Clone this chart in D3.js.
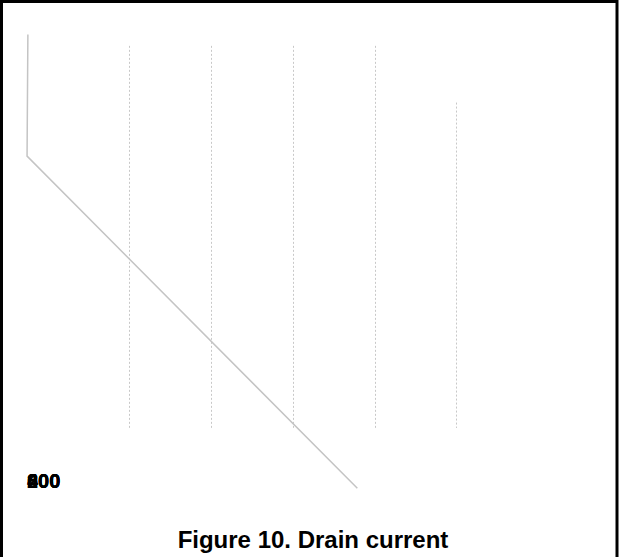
<!DOCTYPE html>
<html>
<head>
<meta charset="utf-8">
<script src="https://cdn.jsdelivr.net/npm/d3@7"></script>
<style>
  html, body { margin: 0; padding: 0; background: #fff; }
  svg { display: block; }
</style>
</head>
<body>
<script>
// Data
const gridValues = [1, 2, 3, 4, 5];
const gridTops = [975, 975, 975, 975, 850];
const gridBottom = 133;
const lineX = [-0.24, -0.25, 3.79];
const lineY = [1000, 732, 0];
const yTickLabels = [0, 200, 400, 600, 800];
const title = "Figure 10. Drain current";

const W = 619, H = 557;
const svg = d3.select("body").append("svg").attr("width", W).attr("height", H);

svg.append("rect")
  .attr("x", 1.5).attr("y", 1.5).attr("width", 615.5).attr("height", 700)
  .attr("fill", "none").attr("stroke", "#000").attr("stroke-width", 3);

const x = d3.scaleLinear().domain([0, 5]).range([47.5, 456.25]);
const y = d3.scaleLinear().domain([0, 1000]).range([488.3, 34.5]);

// dotted vertical gridlines
svg.append("g").selectAll("line")
  .data(gridValues)
  .join("line")
  .attr("x1", d => Math.round(x(d)) + 0.5)
  .attr("x2", d => Math.round(x(d)) + 0.5)
  .attr("y1", (d, i) => y(gridTops[i]))
  .attr("y2", y(gridBottom))
  .attr("stroke", "#c8c8c8")
  .attr("stroke-width", 1)
  .attr("stroke-dasharray", "2,2");

// line
const pts = lineX.map((v, i) => [v, lineY[i]]);
svg.append("path")
  .datum(pts)
  .attr("fill", "none")
  .attr("stroke", "#c4c4c4")
  .attr("stroke-width", 1.5)
  .attr("d", d3.line().x(d => x(d[0])).y(d => y(d[1])));

// collapsed tick labels (all overlapping)
svg.append("g").selectAll("text")
  .data(yTickLabels)
  .join("text")
  .attr("x", 27)
  .attr("y", 488)
  .attr("font-family", "Liberation Sans, Arial, sans-serif")
  .attr("font-size", 20)
  .attr("font-weight", "bold")
  .attr("fill", "#000")
  .text(d => d);

svg.append("text")
  .attr("x", 313)
  .attr("y", 548)
  .attr("text-anchor", "middle")
  .attr("font-family", "Liberation Sans, Arial, sans-serif")
  .attr("font-size", 24)
  .attr("font-weight", "bold")
  .attr("fill", "#000")
  .text(title);
</script>
</body>
</html>
